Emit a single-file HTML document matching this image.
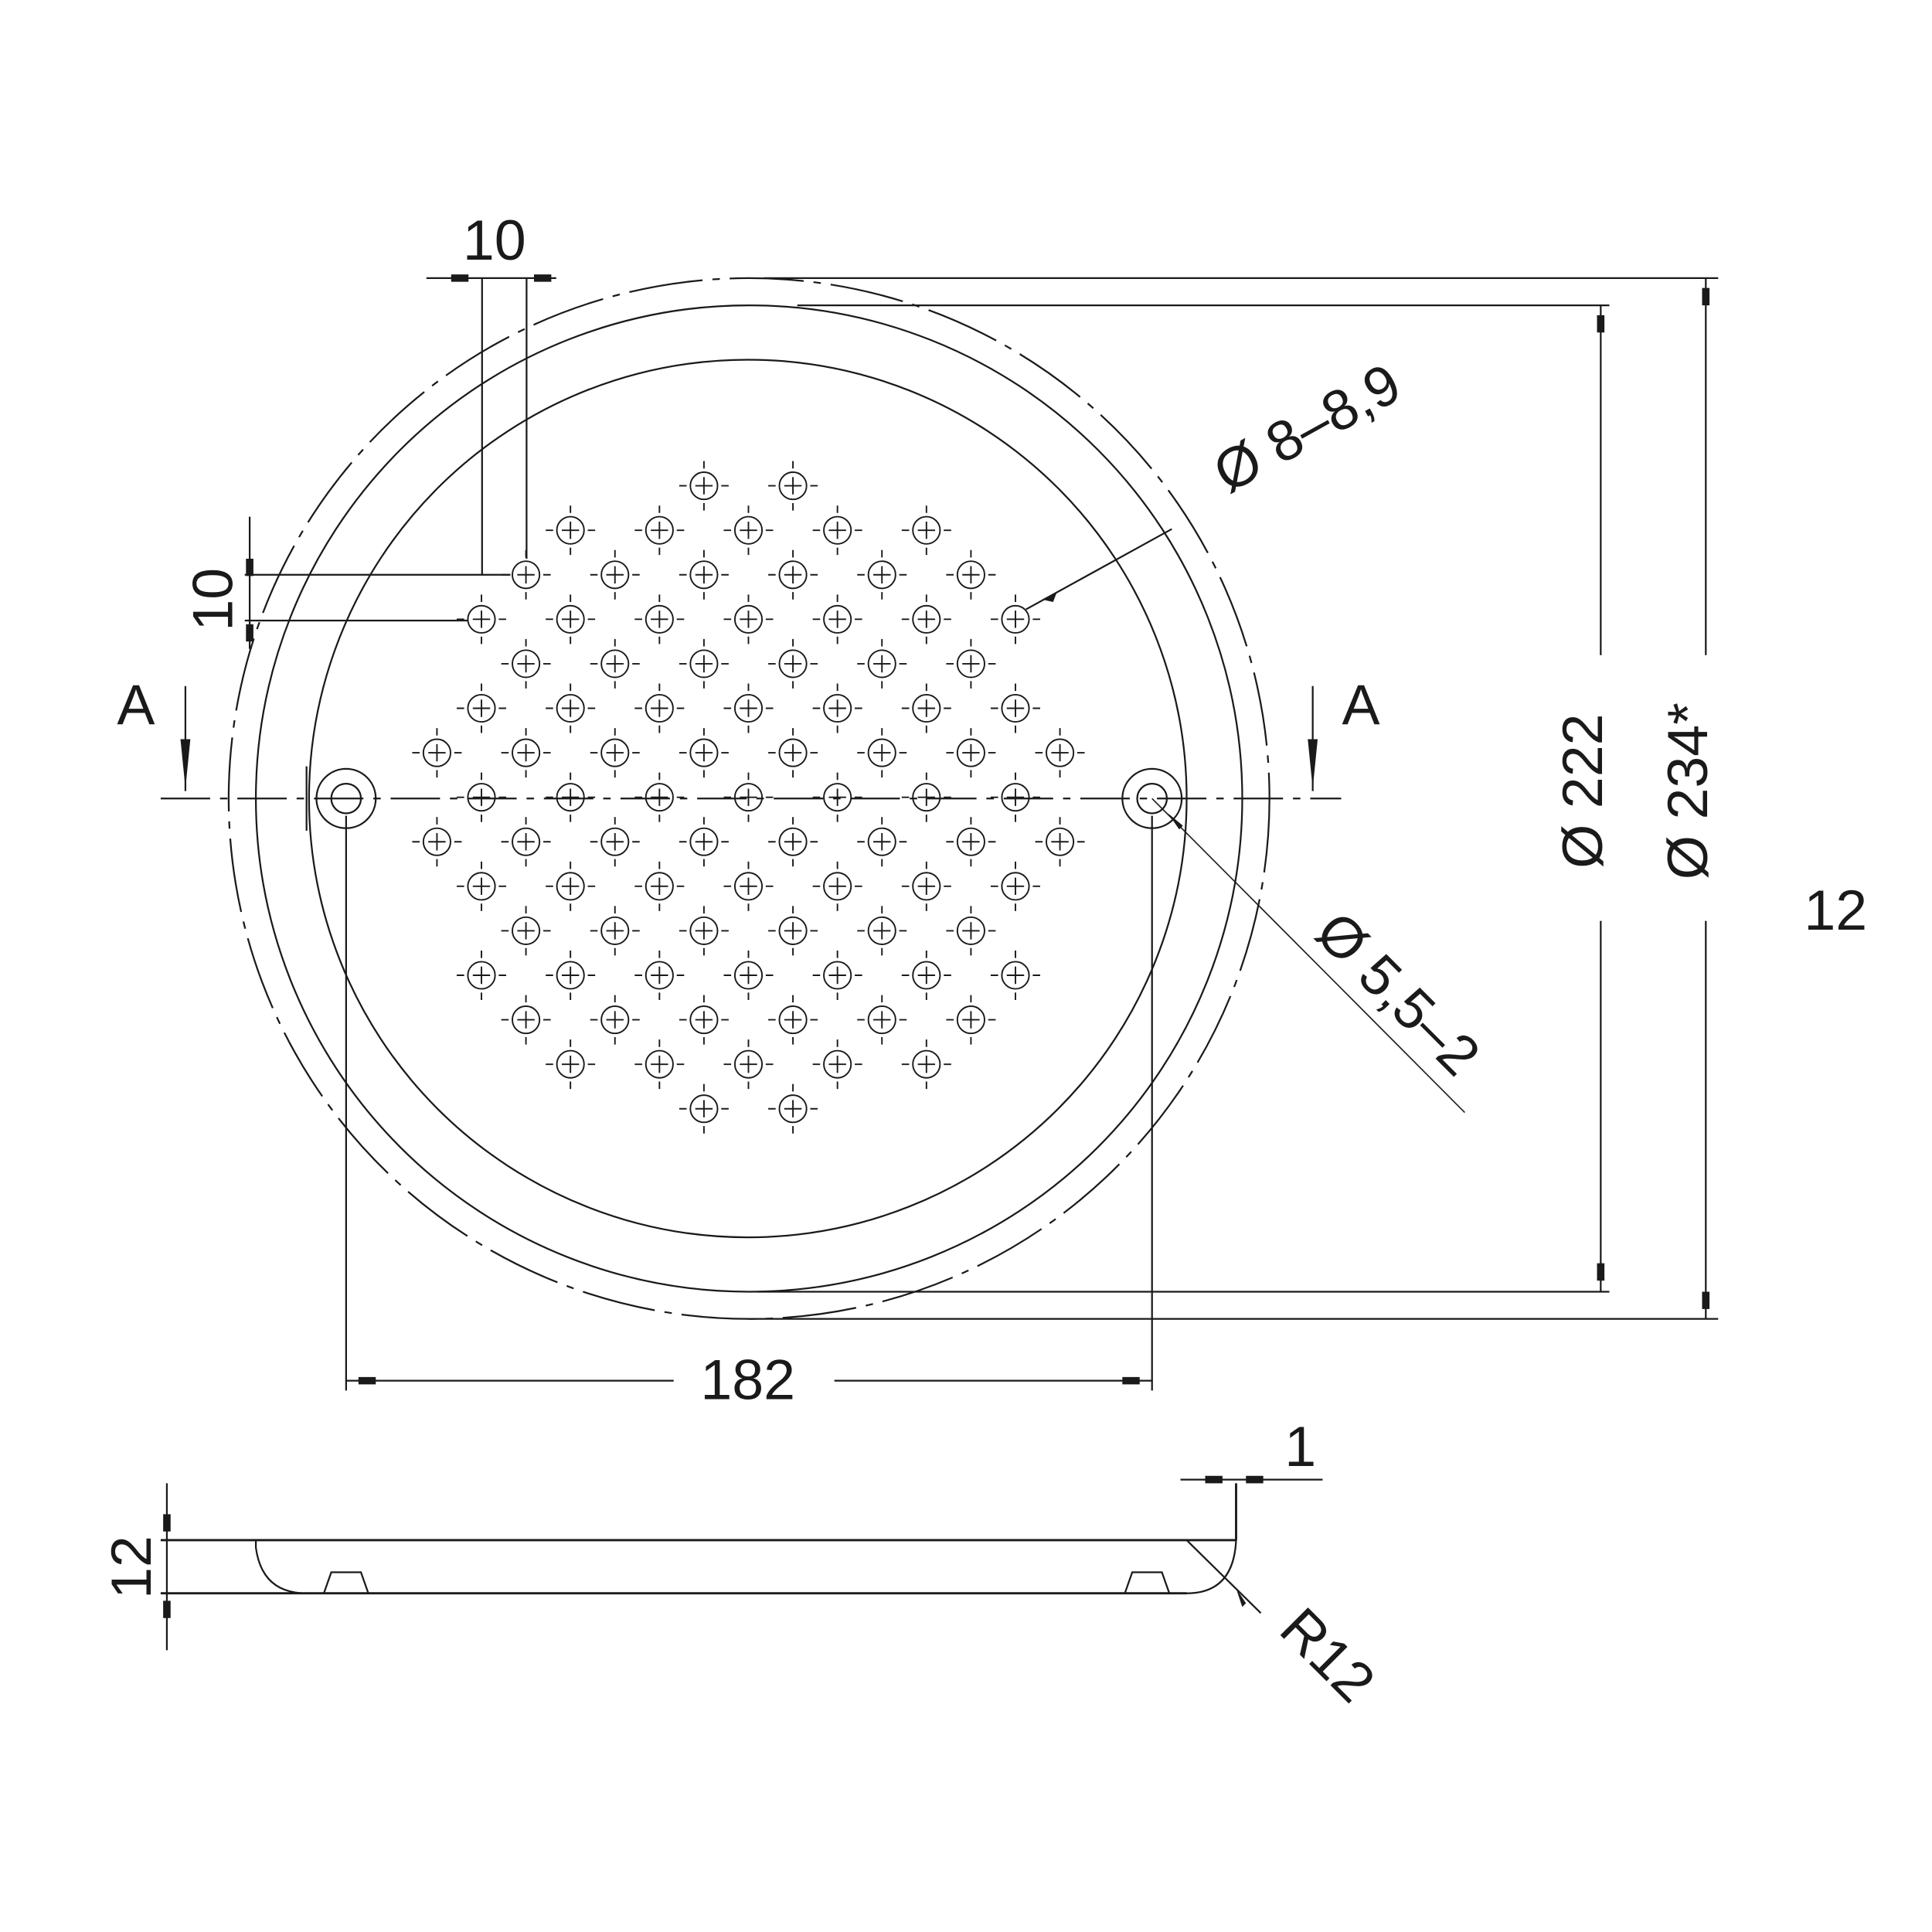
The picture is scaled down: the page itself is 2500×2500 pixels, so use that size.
<!DOCTYPE html>
<html><head><meta charset="utf-8"><style>
html,body{margin:0;padding:0;background:#fff;}
svg{display:block;}
text{font-family:"Liberation Sans",sans-serif;fill:#1a1a1a;}
</style></head><body>
<svg width="2500" height="2500" viewBox="0 0 1563 1563" xmlns="http://www.w3.org/2000/svg">
<defs>
<g id="h" fill="none" stroke="#1a1a1a" stroke-width="1.2">
<circle r="11"/>
<path d="M-7 0H7M0 -7V7M-20 0H-14M14 0H20M0 -20V-14M0 14V20"/>
</g>
</defs>
<g fill="none" stroke="#1a1a1a" stroke-width="1.4">
<circle cx="606" cy="646" r="421" stroke-dasharray="60 8 6 8"/>
<circle cx="606" cy="646" r="399"/>
<circle cx="605" cy="646" r="355"/>
<!-- mounting holes -->
<circle cx="280" cy="646" r="24"/><circle cx="280" cy="646" r="12"/>
<circle cx="932" cy="646" r="24"/><circle cx="932" cy="646" r="12"/>
<!-- centerline -->
<path d="M130 646H1085" stroke-dasharray="40 8 6 8"/>
<path d="M248 620V672"/>
<!-- 10 top -->
<path d="M390 225V465M426 225V452M345 225H450"/>
<!-- 10 left -->
<path d="M198 465H413M198 502H378M202 418V525"/>
<!-- A arrows -->
<path d="M150 555V640M1062 555V640"/>
<!-- leaders -->
<path d="M830 493L948 428"/>
<path d="M932 646L1185 900" stroke-width="1"/>
<!-- 182 -->
<path d="M280 660V1125M932 660V1125M280 1117H545M675 1117H932"/>
<!-- 222 -->
<path d="M645 247H1302M612 1045H1302M1295 247V530M1295 745V1045"/>
<!-- 234 -->
<path d="M618 225H1390M605 1067H1390M1380 225V530M1380 745V1067"/>
<!-- section -->
<path d="M130 1246H1000M130 1289H960M1000 1200V1246" stroke-width="1.8"/>
<path d="M207 1246V1252Q212 1289 248 1289M262 1289L268 1272H292L298 1289M910 1289L916 1272H940L946 1289M1000 1246Q998 1289 960 1289"/>
<path d="M135 1200V1335M955 1197H1070M960 1246L1020 1305"/>
</g>
<g fill="#1a1a1a">
<path d="M365 222h14v6h-14zM432 222h14v6h-14z"/>
<path d="M199 452v14h6v-14zM199 505v14h6v-14z"/>
<path d="M146 598h8l-4 40zM1058 598h8l-4 40z"/>
<path d="M290 1114h14v6h-14zM908 1114h14v6h-14z"/>
<path d="M1292 255h6v14h-6zM1292 1022h6v14h-6zM1377 233h6v14h-6zM1377 1045h6v14h-6z"/>
<path d="M975 1194h14v6h-14zM1008 1194h14v6h-14z"/>
<path d="M132 1225h6v14h-6zM132 1295h6v14h-6z"/>
<path d="M843 485l12-6 -3 8z"/>
<path d="M945 658l12 10-3 3z"/>
<path d="M1000 1285l8 12-3 3z"/>
</g>
<g>
<use href="#h" x="569.5" y="393"/><use href="#h" x="641.5" y="393"/>
<use href="#h" x="461.5" y="429"/><use href="#h" x="533.5" y="429"/><use href="#h" x="605.5" y="429"/><use href="#h" x="677.5" y="429"/><use href="#h" x="749.5" y="429"/>
<use href="#h" x="425.5" y="465"/><use href="#h" x="497.5" y="465"/><use href="#h" x="569.5" y="465"/><use href="#h" x="641.5" y="465"/><use href="#h" x="713.5" y="465"/><use href="#h" x="785.5" y="465"/>
<use href="#h" x="389.5" y="501"/><use href="#h" x="461.5" y="501"/><use href="#h" x="533.5" y="501"/><use href="#h" x="605.5" y="501"/><use href="#h" x="677.5" y="501"/><use href="#h" x="749.5" y="501"/><use href="#h" x="821.5" y="501"/>
<use href="#h" x="425.5" y="537"/><use href="#h" x="497.5" y="537"/><use href="#h" x="569.5" y="537"/><use href="#h" x="641.5" y="537"/><use href="#h" x="713.5" y="537"/><use href="#h" x="785.5" y="537"/>
<use href="#h" x="389.5" y="573"/><use href="#h" x="461.5" y="573"/><use href="#h" x="533.5" y="573"/><use href="#h" x="605.5" y="573"/><use href="#h" x="677.5" y="573"/><use href="#h" x="749.5" y="573"/><use href="#h" x="821.5" y="573"/>
<use href="#h" x="353.5" y="609"/><use href="#h" x="425.5" y="609"/><use href="#h" x="497.5" y="609"/><use href="#h" x="569.5" y="609"/><use href="#h" x="641.5" y="609"/><use href="#h" x="713.5" y="609"/><use href="#h" x="785.5" y="609"/><use href="#h" x="857.5" y="609"/>
<use href="#h" x="389.5" y="645"/><use href="#h" x="461.5" y="645"/><use href="#h" x="533.5" y="645"/><use href="#h" x="605.5" y="645"/><use href="#h" x="677.5" y="645"/><use href="#h" x="749.5" y="645"/><use href="#h" x="821.5" y="645"/>
<use href="#h" x="353.5" y="681"/><use href="#h" x="425.5" y="681"/><use href="#h" x="497.5" y="681"/><use href="#h" x="569.5" y="681"/><use href="#h" x="641.5" y="681"/><use href="#h" x="713.5" y="681"/><use href="#h" x="785.5" y="681"/><use href="#h" x="857.5" y="681"/>
<use href="#h" x="389.5" y="717"/><use href="#h" x="461.5" y="717"/><use href="#h" x="533.5" y="717"/><use href="#h" x="605.5" y="717"/><use href="#h" x="677.5" y="717"/><use href="#h" x="749.5" y="717"/><use href="#h" x="821.5" y="717"/>
<use href="#h" x="425.5" y="753"/><use href="#h" x="497.5" y="753"/><use href="#h" x="569.5" y="753"/><use href="#h" x="641.5" y="753"/><use href="#h" x="713.5" y="753"/><use href="#h" x="785.5" y="753"/>
<use href="#h" x="389.5" y="789"/><use href="#h" x="461.5" y="789"/><use href="#h" x="533.5" y="789"/><use href="#h" x="605.5" y="789"/><use href="#h" x="677.5" y="789"/><use href="#h" x="749.5" y="789"/><use href="#h" x="821.5" y="789"/>
<use href="#h" x="425.5" y="825"/><use href="#h" x="497.5" y="825"/><use href="#h" x="569.5" y="825"/><use href="#h" x="641.5" y="825"/><use href="#h" x="713.5" y="825"/><use href="#h" x="785.5" y="825"/>
<use href="#h" x="461.5" y="861"/><use href="#h" x="533.5" y="861"/><use href="#h" x="605.5" y="861"/><use href="#h" x="677.5" y="861"/><use href="#h" x="749.5" y="861"/>
<use href="#h" x="569.5" y="897"/><use href="#h" x="641.5" y="897"/>
</g>
<g font-size="46">
<text x="400" y="210" text-anchor="middle">10</text>
<text transform="translate(188,485) rotate(-90)" text-anchor="middle">10</text>
<text x="110" y="586" text-anchor="middle">A</text>
<text x="1101" y="586" text-anchor="middle">A</text>
<text transform="translate(1065,360) rotate(-29)" text-anchor="middle">Ø 8–8,9</text>
<text transform="translate(1120,815) rotate(45)" text-anchor="middle">Ø 5,5–2</text>
<text x="605" y="1132" text-anchor="middle">182</text>
<text transform="translate(1296,640) rotate(-90)" text-anchor="middle">Ø 222</text>
<text transform="translate(1381,640) rotate(-90)" text-anchor="middle">Ø 234*</text>
<text x="1485" y="752" text-anchor="middle">12</text>
<text x="1052" y="1186" text-anchor="middle">1</text>
<text transform="translate(122,1268) rotate(-90)" text-anchor="middle">12</text>
<text transform="translate(1063,1350) rotate(45)" text-anchor="middle">R12</text>
</g>
</svg>
</body></html>
